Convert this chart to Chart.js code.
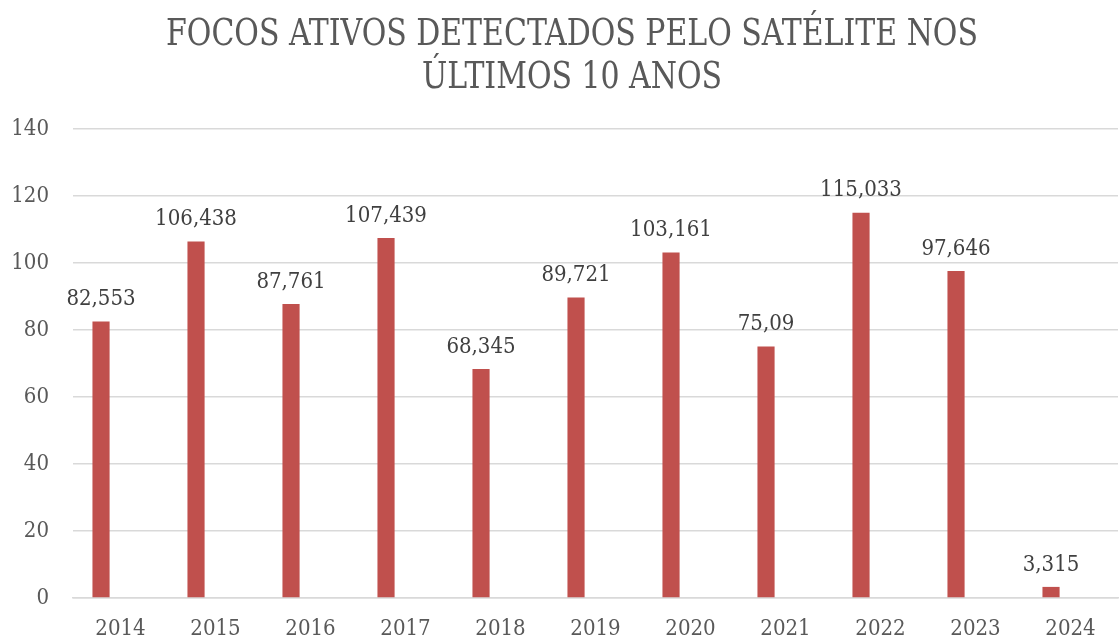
<!DOCTYPE html>
<html>
<head>
<meta charset="utf-8">
<script src="https://cdn.jsdelivr.net/npm/chart.js@4"></script>
<style>
  html, body { margin: 0; padding: 0; background: #fff; }
  #wrap { width: 1120px; height: 639px; }
</style>
</head>
<body>
<div id="wrap"><canvas id="chart"></canvas></div>
<script>
// data (thousands of fire spots)
const years = ['2014', '2015', '2016', '2017', '2018', '2019', '2020', '2021', '2022', '2023', '2024'];
const focos = [82.553, 106.438, 87.761, 107.439, 68.345, 89.721, 103.161, 75.09, 115.033, 97.646, 3.315];
const focosLabels = ['82,553', '106,438', '87,761', '107,439', '68,345', '89,721', '103,161', '75,09', '115,033', '97,646', '3,315'];
const yTicks = [0, 20, 40, 60, 80, 100, 120, 140];
const titleLines = ['FOCOS ATIVOS DETECTADOS PELO SATÉLITE NOS', 'ÚLTIMOS 10 ANOS'];

const serif = "'DejaVu Serif Condensed', 'DejaVu Serif', serif";
const gray = '#595959';

// title drawn by hand so it can be squeezed like the original narrow serif
const narrowTitle = {
  id: 'narrowTitle',
  afterDraw(chart) {
    const ctx = chart.ctx;
    ctx.save();
    ctx.font = '37px ' + serif;
    ctx.fillStyle = gray;
    ctx.textAlign = 'center';
    ctx.textBaseline = 'alphabetic';
    const cx = 572;
    titleLines.forEach((line, i) => {
      ctx.save();
      ctx.translate(cx, 45 + i * 43);
      ctx.scale(0.9, 1);
      ctx.fillText(line, 0, 0);
      ctx.restore();
    });
    ctx.restore();
  }
};

// simple value labels above the bars (no datalabels plugin here)
const barLabels = {
  id: 'barLabels',
  afterDatasetsDraw(chart) {
    const ctx = chart.ctx;
    const meta = chart.getDatasetMeta(0);
    ctx.save();
    ctx.font = '22px ' + serif;
    ctx.fillStyle = '#404040';
    ctx.textAlign = 'center';
    ctx.textBaseline = 'bottom';
    meta.data.forEach((bar, i) => {
      ctx.fillText(focosLabels[i], bar.x, bar.y - 11);
    });
    ctx.restore();
  }
};

new Chart(document.getElementById('chart'), {
  type: 'bar',
  data: {
    labels: years,
    datasets: [
      { label: 'Focos', data: focos, backgroundColor: '#C0504D' },
      { label: 'vazio', data: years.map(() => null), backgroundColor: 'transparent' }
    ]
  },
  options: {
    responsive: true,
    maintainAspectRatio: false,
    animation: false,
    categoryPercentage: 0.82,
    barPercentage: 0.44,
    layout: { padding: { left: 12, right: 2, top: 129, bottom: 0 } },
    plugins: {
      legend: { display: false },
      tooltip: { enabled: false },
      title: { display: false }
    },
    scales: {
      x: {
        afterFit(axis) { axis.height = 41; },
        grid: { display: false, drawTicks: false },
        border: { display: true, color: '#d9d9d9', width: 1.5 },
        ticks: { color: gray, padding: 18, font: { family: serif, size: 22 } }
      },
      y: {
        min: 0,
        max: 140,
        afterBuildTicks(axis) { axis.ticks = yTicks.map(v => ({ value: v })); },
        afterFit(axis) { axis.width = 61; },
        grid: { color: '#d9d9d9', lineWidth: 1.5, drawTicks: false },
        border: { display: false },
        ticks: { color: gray, padding: 24, font: { family: serif, size: 22 } }
      }
    }
  },
  plugins: [barLabels, narrowTitle]
});
</script>
</body>
</html>
